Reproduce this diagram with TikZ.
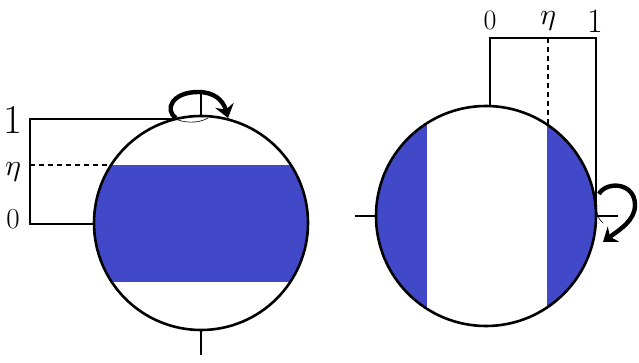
\documentclass[tikz,border=0pt]{standalone}
\usepackage{fontspec}
\usepackage{unicode-math}
\setmathfont{Latin Modern Math}
\usetikzlibrary{arrows.meta}
\definecolor{bandblue}{RGB}{65,73,201}
\tikzset{
  ball/.style={line width=2.6pt},
  bracket/.style={line width=1.6pt},
  etaline/.style={line width=1.4pt, dash pattern=on 5pt off 4pt},
  tick/.style={line width=2pt},
  rot/.style={line width=4.4pt, -{Stealth[length=13pt,width=19pt]}},
  thinarc/.style={line width=0.6pt},
  lab/.style={inner sep=0pt, anchor=base},
}
\begin{document}
\begin{tikzpicture}[x=1pt,y=1pt]
\useasboundingbox (0,0) rectangle (639,362);
% ---------------- left sphere ----------------
\coordinate (L) at (201,139);
\begin{scope}
  \clip (L) circle[radius=107pt];
  \fill[bandblue] (80,80) rectangle (320,197);
\end{scope}
\draw[ball] (L) circle[radius=107pt];
% axis ticks
\coordinate (Lt1) at (201,271); \coordinate (Lt2) at (201,246);
\coordinate (Lb1) at (201,32); \coordinate (Lb2) at (201,7);
% bracket
\coordinate (Lq1) at (30,243); \coordinate (Lc1) at (176,243);
\coordinate (Lq0) at (30,138); \coordinate (Lc0) at (94,138);
\coordinate (Lqe) at (30,197); \coordinate (Lce) at (111,197);
\draw[bracket] (Lc1) -- (Lq1) -- (Lq0) -- (Lc0);
\draw[etaline] (Lqe) -- (Lce);
\node[lab, font=\fontsize{41}{44}\selectfont] (l1) at (13,229) {1};
\node[lab, font=\fontsize{30}{33}\selectfont] (leta) at (13,187) {$\eta$};
\node[lab, font=\fontsize{29}{32}\selectfont] (l0) at (13,134) {0};
% rotation arrow
\coordinate (La) at (176,244); \coordinate (Lb) at (198,270); \coordinate (Lc) at (228,244);
\draw[thinarc] (174,244) .. controls (182,239) and (198,238) .. (208,244);
\draw[rot] (La) .. controls (164,252) and (172,270) .. (Lb) .. controls (214,270) and (223,262) .. (Lc);
\draw[tick] (Lt1) -- (Lt2);
\draw[tick] (Lb1) -- (Lb2);
% ---------------- right sphere ----------------
\coordinate (R) at (486,146);
\begin{scope}
  \clip (R) circle[radius=110pt];
  \fill[bandblue] (370,30) rectangle (427,260);
  \fill[bandblue] (547,30) rectangle (600,260);
\end{scope}
\draw[ball] (R) circle[radius=110pt];
% axis ticks
\coordinate (Rl1) at (355,146); \coordinate (Rl2) at (376,146);
\coordinate (Rr1) at (597,146); \coordinate (Rr2) at (618,146);
\draw[tick] (Rl1) -- (Rl2);
\draw[bracket] (Rr1) -- (Rr2);
% bracket
\coordinate (Rq0) at (490,324); \coordinate (Rc0) at (490,256);
\coordinate (Rq1) at (596,324); \coordinate (Rc1) at (596,150);
\coordinate (Rqe) at (548,324); \coordinate (Rce) at (548,237);
\draw[bracket] (Rc0) -- (Rq0) -- (Rq1) -- (Rc1);
\draw[etaline] (Rqe) -- (Rce);
\node[lab, font=\fontsize{28}{31}\selectfont] (r0) at (490,332) {0};
\node[lab, font=\fontsize{30}{33}\selectfont] (reta) at (548,337) {$\eta$};
\node[lab, font=\fontsize{34}{37}\selectfont] (r1) at (595,329) {1};
% rotation arrow
\coordinate (Ra) at (599,168); \coordinate (Rb) at (635,157); \coordinate (Rc) at (603,120);
\draw[thinarc] (597,157) .. controls (596,149) and (598,143) .. (603,139);
\draw[rot] (Ra) .. controls (606,181) and (635,180) .. (Rb) .. controls (635,141) and (619,132) .. (Rc);
\end{tikzpicture}
\end{document}
